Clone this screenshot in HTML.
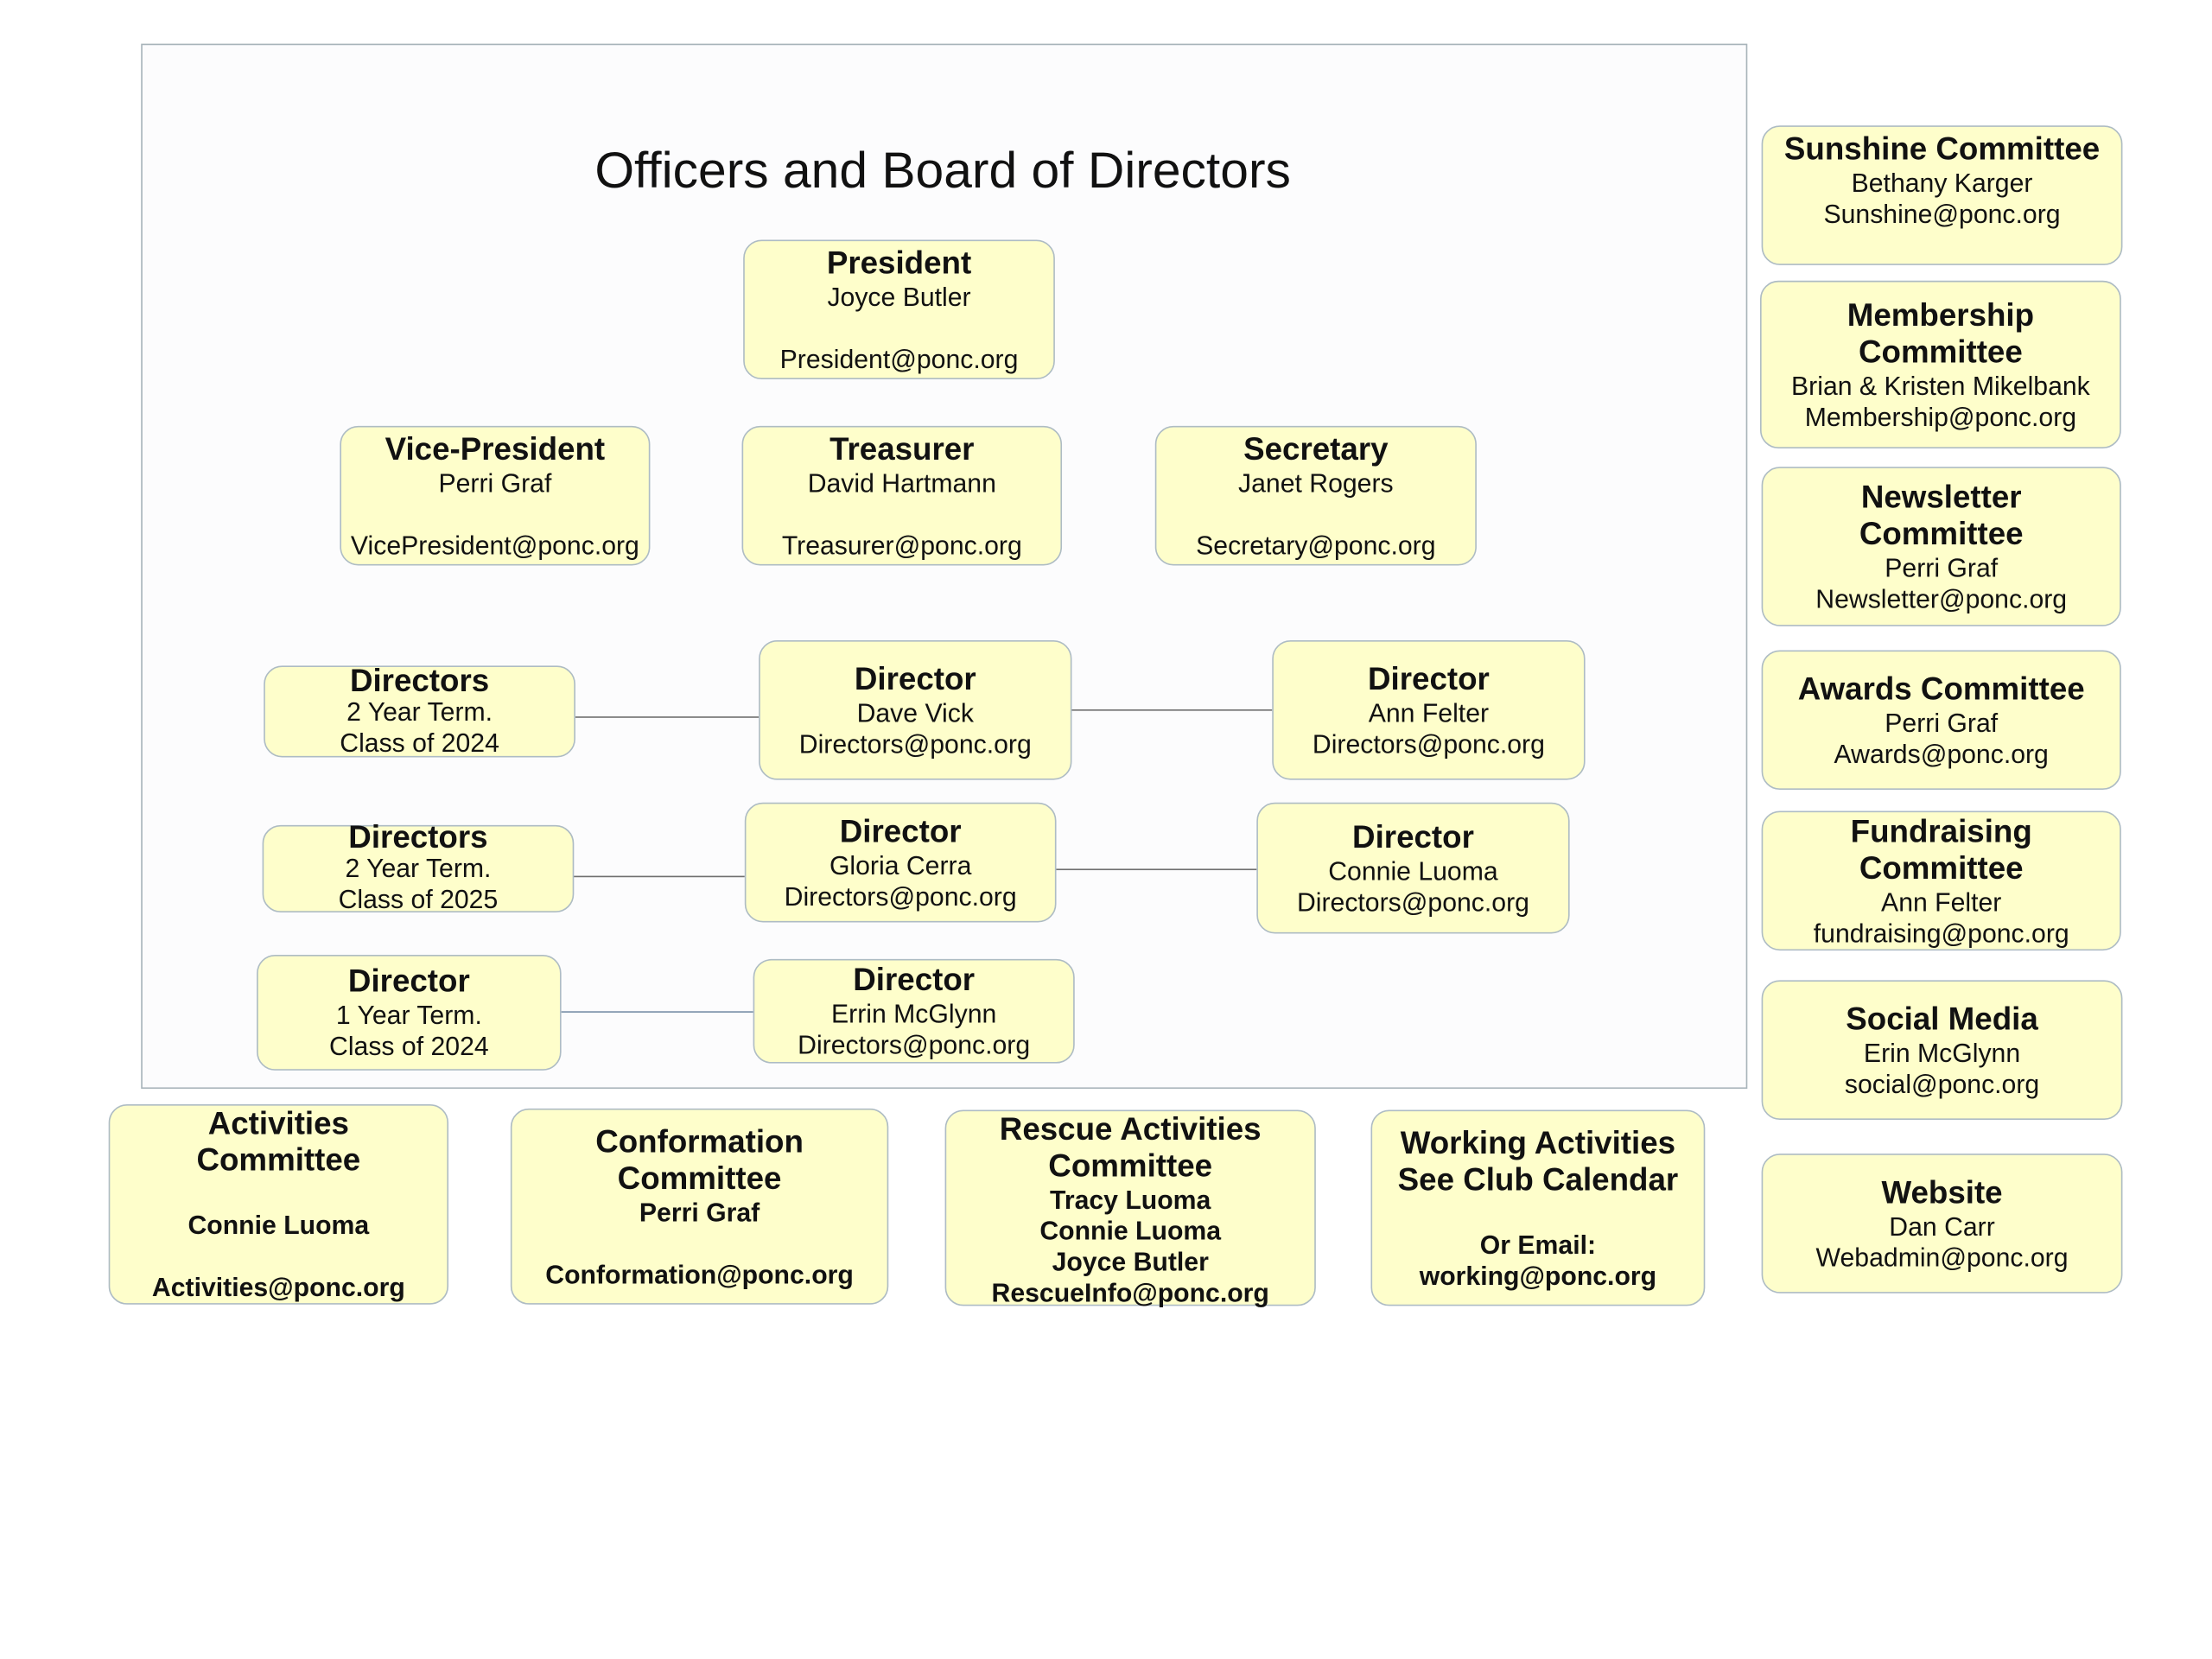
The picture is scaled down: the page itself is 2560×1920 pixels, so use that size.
<!DOCTYPE html>
<html><head><meta charset="utf-8"><style>
html,body{margin:0;padding:0;background:#fff;width:2560px;height:1920px;overflow:hidden}
#w{position:absolute;left:0;top:0;width:1570px;height:1176px;transform:scale(1.6322);transform-origin:0 0;font-family:"Liberation Sans",sans-serif;color:#111}
.frame{position:absolute;left:100px;top:31px;width:1137px;height:739px;border:1px solid #a8b4ba;background:#fcfcfd}
.t{position:absolute;left:100px;width:1137px;top:100px;text-align:center;font-size:36px}
.b{position:absolute;box-sizing:border-box;border:1px solid #aebcc4;border-radius:13px;background:#fefecb;display:flex;flex-direction:column;justify-content:center;align-items:center;text-align:center;font-size:18.5px;line-height:22px;white-space:nowrap}
.b .h{font-weight:bold;font-size:22.5px;line-height:26px}
.b.bo{font-weight:bold}
.e{height:22px}
.l{position:absolute;height:0;border-top:1px solid #707070}
</style></head><body><div id="w">
<div class="frame"></div>
<div class="t">Officers and Board of Directors</div>

<div class="l" style="left:408px;width:130px;top:508px"></div>
<div class="l" style="left:760px;width:142px;top:503px"></div>
<div class="l" style="left:398px;width:130px;top:621px"></div>
<div class="l" style="left:749px;width:142px;top:616px"></div>
<div class="l" style="left:398px;width:136px;top:717px;border-color:#7890a8"></div>

<div class="b" style="left:527px;top:170px;width:221px;height:99px"><div class="h">President</div><div>Joyce Butler</div><div class="e"></div><div>President@ponc.org</div></div>
<div class="b" style="left:241px;top:302px;width:220px;height:99px"><div class="h">Vice-President</div><div>Perri Graf</div><div class="e"></div><div>VicePresident@ponc.org</div></div>
<div class="b" style="left:526px;top:302px;width:227px;height:99px"><div class="h">Treasurer</div><div>David Hartmann</div><div class="e"></div><div>Treasurer@ponc.org</div></div>
<div class="b" style="left:819px;top:302px;width:228px;height:99px"><div class="h">Secretary</div><div>Janet Rogers</div><div class="e"></div><div>Secretary@ponc.org</div></div>

<div class="b" style="left:187px;top:472px;width:221px;height:65px"><div class="h" style="line-height:22px">Directors</div><div>2 Year Term.</div><div>Class of 2024</div></div>
<div class="b" style="left:538px;top:454px;width:222px;height:99px"><div class="h">Director</div><div>Dave Vick</div><div>Directors@ponc.org</div></div>
<div class="b" style="left:902px;top:454px;width:222px;height:99px"><div class="h">Director</div><div>Ann Felter</div><div>Directors@ponc.org</div></div>

<div class="b" style="left:186px;top:585px;width:221px;height:62px"><div class="h" style="line-height:22px">Directors</div><div>2 Year Term.</div><div>Class of 2025</div></div>
<div class="b" style="left:528px;top:569px;width:221px;height:85px"><div class="h">Director</div><div>Gloria Cerra</div><div>Directors@ponc.org</div></div>
<div class="b" style="left:891px;top:569px;width:222px;height:93px"><div class="h">Director</div><div>Connie Luoma</div><div>Directors@ponc.org</div></div>

<div class="b" style="left:182px;top:677px;width:216px;height:82px"><div class="h">Director</div><div>1 Year Term.</div><div>Class of 2024</div></div>
<div class="b" style="left:534px;top:680px;width:228px;height:74px"><div class="h">Director</div><div>Errin McGlynn</div><div>Directors@ponc.org</div></div>

<div class="b bo" style="left:77px;top:783px;width:241px;height:142px"><div class="h">Activities</div><div class="h">Committee</div><div class="e"></div><div>Connie Luoma</div><div class="e"></div><div>Activities@ponc.org</div></div>
<div class="b bo" style="left:362px;top:786px;width:268px;height:139px"><div class="h">Conformation</div><div class="h">Committee</div><div>Perri Graf</div><div class="e"></div><div>Conformation@ponc.org</div></div>
<div class="b bo" style="left:670px;top:787px;width:263px;height:139px;justify-content:flex-start;padding-top:0"><div class="h">Rescue Activities</div><div class="h">Committee</div><div>Tracy Luoma</div><div>Connie Luoma</div><div>Joyce Butler</div><div>RescueInfo@ponc.org</div></div>
<div class="b bo" style="left:972px;top:787px;width:237px;height:139px"><div class="h">Working Activities</div><div class="h">See Club Calendar</div><div class="e"></div><div>Or Email:</div><div>working@ponc.org</div></div>

<div class="b" style="left:1249px;top:89px;width:256px;height:99px;justify-content:flex-start;padding-top:3px"><div class="h">Sunshine Committee</div><div>Bethany Karger</div><div>Sunshine@ponc.org</div></div>
<div class="b" style="left:1248px;top:199px;width:256px;height:119px"><div class="h">Membership</div><div class="h">Committee</div><div>Brian &amp; Kristen Mikelbank</div><div>Membership@ponc.org</div></div>
<div class="b" style="left:1249px;top:331px;width:255px;height:113px"><div class="h">Newsletter</div><div class="h">Committee</div><div>Perri Graf</div><div>Newsletter@ponc.org</div></div>
<div class="b" style="left:1249px;top:461px;width:255px;height:99px"><div class="h">Awards Committee</div><div>Perri Graf</div><div>Awards@ponc.org</div></div>
<div class="b" style="left:1249px;top:575px;width:255px;height:99px"><div class="h">Fundraising</div><div class="h">Committee</div><div>Ann Felter</div><div>fundraising@ponc.org</div></div>
<div class="b" style="left:1249px;top:695px;width:256px;height:99px"><div class="h">Social Media</div><div>Erin McGlynn</div><div>social@ponc.org</div></div>
<div class="b" style="left:1249px;top:818px;width:256px;height:99px"><div class="h">Website</div><div>Dan Carr</div><div>Webadmin@ponc.org</div></div>
</div></body></html>
